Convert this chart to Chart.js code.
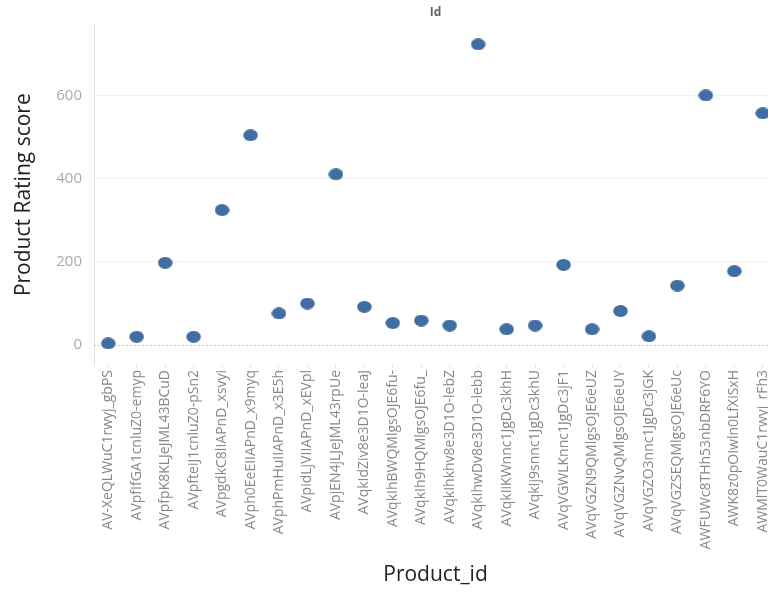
<!DOCTYPE html>
<html>
<head>
<meta charset="utf-8">
<script src="https://cdn.jsdelivr.net/npm/chart.js@4.4.1/dist/chart.umd.min.js"></script>
<style>
  html, body { margin: 0; padding: 0; background: #fff; overflow: hidden; }
  #wrap { width: 785px; height: 592px; }
</style>
</head>
<body>
<div id="wrap"><canvas id="chart" width="785" height="592"></canvas></div>
<script>
const productIds = [
    'AV-XeQLWuC1rwyj_gbPS', 'AVpfIfGA1cnluZ0-emyp', 'AVpfpK8KLJeJML43BCuD', 'AVpfteiJ1cnluZ0-pSn2',
    'AVpgdkC8lIAPnD_xsvyi', 'AVph0EeEIIAPnD_x9myq', 'AVphPmHuIIAPnD_x3E5h', 'AVpidLjVIIAPnD_xEVpl',
    'AVpjEN4jLJeJML43rpUe', 'AVqkIdZiv8e3D1O-leaJ', 'AVqkIhBWQMlgsOJE6fu-', 'AVqkIh9HQMlgsOJE6fu_',
    'AVqkIhkhv8e3D1O-lebZ', 'AVqkIhwDv8e3D1O-lebb', 'AVqkIiKWnnc1JgDc3khH', 'AVqkIj9snnc1JgDc3khU',
    'AVqVGWLKnnc1JgDc3jF1', 'AVqVGZN9QMlgsOJE6eUZ', 'AVqVGZNvQMlgsOJE6eUY', 'AVqVGZO3nnc1JgDc3jGK',
    'AVqVGZSEQMlgsOJE6eUc', 'AWFUWc8THh53nbDRF6YO', 'AWK8z0pOIwln0LfXiSxH', 'AWMlT0WauC1rwyj_rFh3'
];
const ratingScores = [4, 20, 198, 20, 325, 505, 76, 100, 411, 92, 53, 59, 47, 724, 38, 47, 193, 38, 82, 21, 143, 601, 178, 558];
const yTicks = [0, 200, 400, 600];

// point is a bit wider than tall in the picture
function makeDot() {
    const c = document.createElement('canvas');
    c.width = 15; c.height = 12;
    const g = c.getContext('2d');
    g.fillStyle = '#416ea2';
    g.beginPath();
    g.ellipse(7.5, 6, 7.3, 5.9, 0, 0, Math.PI * 2);
    g.fill();
    return c;
}

const zeroLine = {
    id: 'zeroLine',
    beforeDatasetsDraw(chart) {
        const y = Math.round(chart.scales.y.getPixelForValue(0)) + 0.5;
        const { left, right } = chart.chartArea;
        const ctx = chart.ctx;
        ctx.save();
        ctx.strokeStyle = '#c4c4c4';
        ctx.lineWidth = 1;
        ctx.setLineDash([2, 2]);
        ctx.beginPath();
        ctx.moveTo(left, y);
        ctx.lineTo(right, y);
        ctx.stroke();
        ctx.restore();
    }
};

const fontFam = "'Open Sans', 'Noto Sans', sans-serif";

new Chart(document.getElementById('chart'), {
    type: 'line',
    data: {
        labels: productIds,
        datasets: [{
            label: 'Id',
            data: ratingScores,
            showLine: false,
            pointStyle: makeDot(),
            pointRadius: 7,
            pointHoverRadius: 7
        }]
    },
    options: {
        responsive: false,
        animation: false,
        layout: { padding: { left: 0, right: 0, top: 0, bottom: 4 } },
        plugins: {
            legend: { display: false },
            tooltip: { enabled: false },
            title: {
                display: true,
                text: 'Id',
                fullSize: false,
                color: '#666',
                font: { family: fontFam, size: 12, weight: 'bold' },
                padding: { top: 5, bottom: 5 }
            }
        },
        scales: {
            x: {
                offset: true,
                grid: { display: true, drawOnChartArea: false, tickLength: 3, color: '#e2e2e2', offset: false },
                border: { display: false },
                ticks: {
                    autoSkip: false,
                    minRotation: 90,
                    maxRotation: 90,
                    padding: 2,
                    color: '#888',
                    font: { family: fontFam, size: 14 }
                },
                title: {
                    display: true,
                    text: 'Product_id',
                    color: '#222',
                    font: { family: fontFam, size: 21 },
                    padding: { top: 8, bottom: 0 }
                },
                afterFit(scale) { scale.height = 223; }
            },
            y: {
                min: -48,
                max: 772,
                afterBuildTicks(scale) { scale.ticks = yTicks.map(v => ({ value: v })); },
                grid: {
                    color: ctx => (ctx.tick && ctx.tick.value === 0) ? 'rgba(0,0,0,0)' : '#f0f0f0',
                    drawTicks: false
                },
                border: { display: true, color: '#e4e4e4' },
                ticks: {
                    padding: 12,
                    color: '#aaa',
                    font: { family: fontFam, size: 15 }
                },
                title: {
                    display: true,
                    text: 'Product Rating score',
                    color: '#222',
                    font: { family: fontFam, size: 21 },
                    padding: { top: 11, bottom: 0 }
                },
                afterFit(scale) { scale.width = 94; }
            }
        }
    },
    plugins: [zeroLine]
});
</script>
</body>
</html>
